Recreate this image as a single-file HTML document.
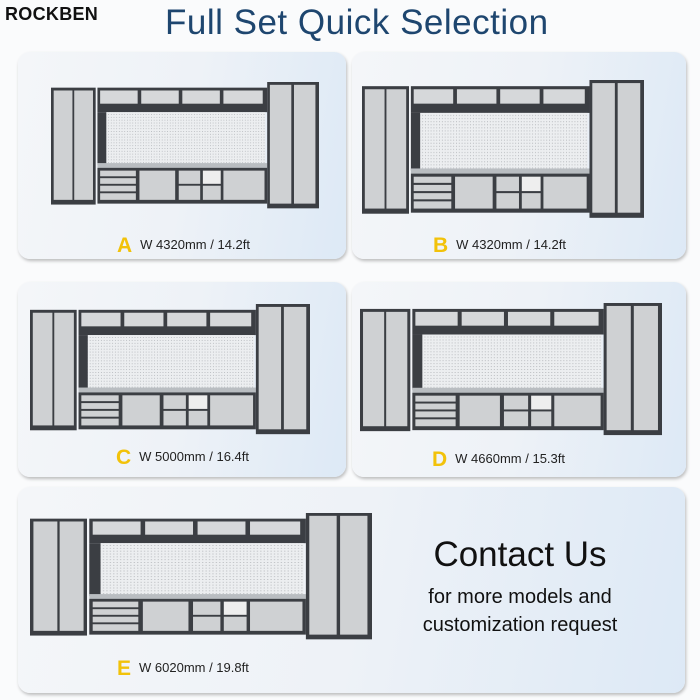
<!DOCTYPE html>
<html><head><meta charset="utf-8">
<style>
html,body{margin:0;padding:0;background:#fafbfc;}
body{width:700px;height:700px;position:relative;overflow:hidden;font-family:"Liberation Sans",sans-serif;}
.logo{position:absolute;left:5px;top:4px;font-size:18px;font-weight:bold;letter-spacing:0.3px;color:#111;}
.title{position:absolute;left:165px;top:3px;font-size:35px;color:#1e466f;letter-spacing:0.5px;}
.card{position:absolute;border-radius:12px;background:linear-gradient(100deg,#f4f6f9 0%,#eef2f7 50%,#dde9f6 100%);box-shadow:1px 2px 3px rgba(0,0,0,0.25);}
.cab{position:absolute;}
.lbl{position:absolute;font-size:13px;color:#222;white-space:nowrap;}
.lbl b{color:#f2c20a;font-size:21px;font-weight:900;margin-right:8px;vertical-align:-3px;}
.contact{position:absolute;left:380px;top:535px;width:280px;text-align:center;color:#111;}
</style></head><body>
<svg width="0" height="0" style="position:absolute">
<defs>
<pattern id="dots" width="3" height="3" patternUnits="userSpaceOnUse"><rect width="3" height="3" fill="#eceef0"/><rect x="1" y="1" width="1" height="1" fill="#b9bcc0"/></pattern>
<symbol id="set" viewBox="0 0 300 140" preserveAspectRatio="none">
<rect x="0" y="6" width="50" height="124" fill="#3b3e43"/>
<rect x="3" y="9" width="21" height="116" fill="#cfd1d3"/>
<rect x="26" y="9" width="21" height="116" fill="#cfd1d3"/>
<rect x="52" y="6" width="190" height="26" fill="#3b3e43"/>
<rect x="55" y="9" width="42" height="14" fill="#d6d8da"/>
<rect x="101" y="9" width="42" height="14" fill="#d6d8da"/>
<rect x="147" y="9" width="42" height="14" fill="#d6d8da"/>
<rect x="193" y="9" width="44" height="14" fill="#d6d8da"/>
<rect x="52" y="32" width="10" height="56" fill="#3b3e43"/>
<rect x="62" y="32" width="178" height="56" fill="url(#dots)"/>
<rect x="52" y="86" width="190" height="5" fill="#b9bdc1"/>
<rect x="52" y="91" width="190" height="38" fill="#3b3e43"/>
<rect x="55" y="94" width="40" height="6" fill="#cfd1d3"/>
<rect x="55" y="102" width="40" height="6" fill="#cfd1d3"/>
<rect x="55" y="110" width="40" height="6" fill="#cfd1d3"/>
<rect x="55" y="118" width="40" height="7" fill="#cfd1d3"/>
<rect x="99" y="94" width="40" height="31" fill="#cfd1d3"/>
<rect x="143" y="94" width="24" height="14" fill="#cfd1d3"/>
<rect x="143" y="110" width="24" height="15" fill="#cfd1d3"/>
<rect x="170" y="94" width="20" height="14" fill="#eeeeee"/>
<rect x="170" y="110" width="20" height="15" fill="#cfd1d3"/>
<rect x="193" y="94" width="46" height="31" fill="#cfd1d3"/>
<rect x="242" y="0" width="58" height="134" fill="#3b3e43"/>
<rect x="245" y="3" width="24" height="126" fill="#cfd1d3"/>
<rect x="272" y="3" width="24" height="126" fill="#cfd1d3"/>
</symbol>
</defs>
</svg>
<div class="logo">ROCKBEN</div>
<div class="title">Full Set Quick Selection</div>

<div class="card" style="left:18px;top:52px;width:328px;height:207px"></div>
<div class="card" style="left:352px;top:52px;width:334px;height:207px"></div>
<div class="card" style="left:18px;top:282px;width:328px;height:195px"></div>
<div class="card" style="left:352px;top:282px;width:334px;height:195px"></div>
<div class="card" style="left:18px;top:487px;width:667px;height:206px"></div>

<svg class="cab" style="left:51px;top:82px" width="268" height="132"><use href="#set" width="268" height="132"/></svg>
<svg class="cab" style="left:362px;top:80px" width="282" height="144"><use href="#set" width="282" height="144"/></svg>
<svg class="cab" style="left:30px;top:304px" width="280" height="136"><use href="#set" width="280" height="136"/></svg>
<svg class="cab" style="left:360px;top:303px" width="302" height="138"><use href="#set" width="302" height="138"/></svg>
<svg class="cab" style="left:30px;top:513px" width="342" height="132"><use href="#set" width="342" height="132"/></svg>

<div class="lbl" style="left:117px;top:234px"><b>A</b>W 4320mm / 14.2ft</div>
<div class="lbl" style="left:433px;top:234px"><b>B</b>W 4320mm / 14.2ft</div>
<div class="lbl" style="left:116px;top:446px"><b>C</b>W 5000mm / 16.4ft</div>
<div class="lbl" style="left:432px;top:448px"><b>D</b>W 4660mm / 15.3ft</div>
<div class="lbl" style="left:117px;top:657px"><b>E</b>W 6020mm / 19.8ft</div>

<div class="contact">
<div style="font-size:35px;line-height:40px">Contact Us</div>
<div style="font-size:20px;line-height:28px;margin-top:8px">for more models and<br>customization request</div>
</div>
</body></html>
